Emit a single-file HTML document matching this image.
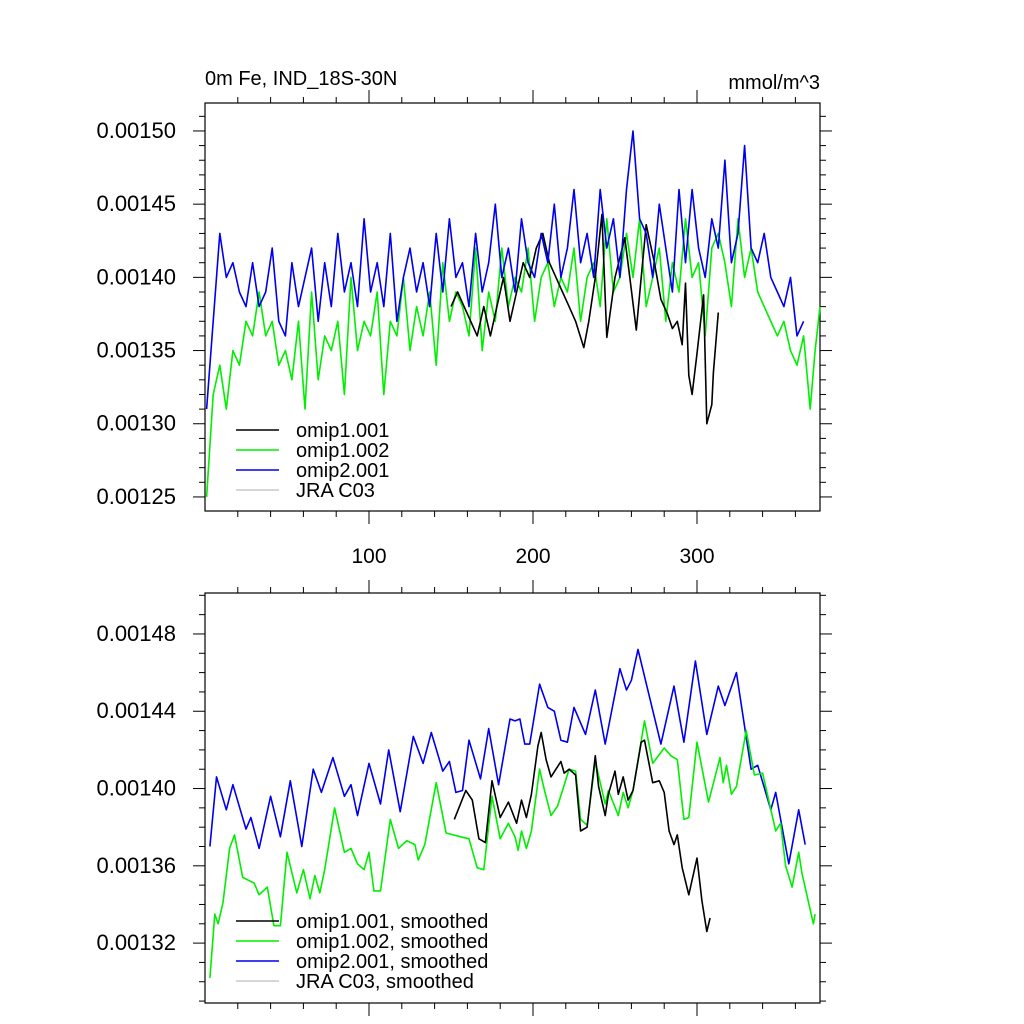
<!DOCTYPE html>
<html><head><meta charset="utf-8"><style>
html,body{margin:0;padding:0;background:#fff;}
svg{display:block;font-family:"Liberation Sans",sans-serif;}
</style></head><body>
<svg id="chart" width="1024" height="1024" viewBox="0 0 1024 1024" xmlns="http://www.w3.org/2000/svg">
<text x="205" y="85" font-size="20">0m Fe, IND_18S-30N</text>
<text x="820" y="89" font-size="20" text-anchor="end">mmol/m^3</text>
<g id="top"></g>
<g id="bot"></g>
</svg>
<script>
// values in units of 1e-5 mmol/m^3
const topBlueX=[1,5,9,13,17,21,25,29,33,37,41,45,49,53,57,61,65,69,73,77,81,85,89,93,97,101,105,109,113,117,121,125,129,133,137,141,145,149,153,157,161,165,169,173,177,181,185,189,193,197,201,205,209,213,217,221,225,229,233,237,241,245,249,253,257,261,265,269,273,277,281,285,289,293,297,301,305,309,313,317,321,325,329,333,337,341,345,349,353,357,361,365];
const topBlueY=[131,137,143,140,141,139,138,141,138,139,142,137,136,141,138,140,142,137,141,138,143,139,141,138,144,139,141,138,143,137,140,142,139,141,138,143,139,144,140,141,138,143,139,141,145,140,142,139,144,141,140,143,141,145,140,142,146,141,143,140,146,142,144,140,146,150,144,143,140,145,142,139,146,141,146,142,140,144,142,148,141,143,149,142,141,143,140,139,138,140,136,137];
const topGreenX=[1,5,9,13,17,21,25,29,33,37,41,45,49,53,57,61,65,69,73,77,81,85,89,93,97,101,105,109,113,117,121,125,129,133,137,141,145,149,153,157,161,165,169,173,177,181,185,189,193,197,201,205,209,213,217,221,225,229,233,237,241,245,249,253,257,261,265,269,273,277,281,285,289,293,297,301,305,309,313,317,321,325,329,333,337,341,345,349,353,357,361,365,369,372,375];
const topGreenY=[125,132,134,131,135,134,137,136,139,136,137,134,135,133,137,131,139,133,136,135,137,132,140,135,137,136,139,132,137,136,140,135,138,136,139,134,141,137,139,138,136,142,135,139,137,142,138,140,139,142,137,140,141,138,140,139,142,137,140,141,138,144,139,140,143,140,144,138,140,142,137,141,139,144,140,141,136,142,143,141,138,144,140,142,139,138,137,136,137,135,134,136,131,135,138];
const topBlackX=[150,154,158,162,166,170,174,178,182,186,190,194,198,202,206,210,214,218,222,226,231,234,238,242,245,250,256,259,263,266,269,274,278,282,285,288,291,293,295,297,300,304,306,309,310,313];
const topBlackY=[138,139,138,137,136,138,136,138,140,137,139,141,140,142,143,141,140,139,138,137,135.2,137,140,144.3,135.9,140,142.7,140,136.4,140,143.6,141,138.5,137.5,136.5,137,135.4,139.6,133.3,132,134.8,138.8,130,131.3,133.5,137.6];

const botBlueX=[3,7,13,17,25,28,33,40,46,52,59,66,71,78,85,89,93,100,107,112,119,127,133,138,145,149,153,157,161,168,173,179,186,189,192,195,198,204,209,213,217,221,225,232,238,244,253,257,260,264,278,286,292,299,306,313,317,324,333,337,345,348,356,362,366];
const botBlueY=[137,140.6,138.9,140.2,137.9,138.5,136.9,139.6,137.5,140.4,137,141,139.8,141.6,139.6,140.2,138.6,141.3,139.2,142,138.8,142.7,141.3,142.9,140.9,141.4,139.8,139.9,142.5,140.5,143.1,140.2,143.6,143.5,143.6,142.3,142.3,145.4,144.2,144,142.5,142.4,144.2,142.8,145.1,142.3,146.2,145.1,145.6,147.2,142.3,145.3,142.4,146.6,142.8,145.3,144.3,146,141,141.2,138.9,139.8,136.1,138.9,137.1];
const botGreenX=[3,6,8,11,15,18,23,30,33,38,42,46,50,56,60,64,67,70,73,79,85,89,93,97,100,103,107,113,118,123,128,130,134,141,147,156,161,166,170,175,180,185,189,191,193,196,199,204,207,211,215,218,222,226,229,233,238,244,246,252,255,258,261,268,273,280,284,288,292,295,300,307,314,316,318,321,324,330,335,340,348,351,354,358,362,364,371,372];
const botGreenY=[130.2,133.5,133,134.1,136.9,137.6,135.4,135.1,134.5,134.9,132.9,132.9,136.7,134.6,135.8,134.3,135.5,134.6,135.8,139,136.7,136.9,136.1,135.8,136.7,134.7,134.7,138.4,136.9,137.3,137.1,136.3,137.1,140.3,137.7,137.5,137.4,135.9,135.8,139.6,137.4,138.2,137.5,136.8,137.8,136.9,137.8,141,139.9,138.6,139.1,139.9,141,140.9,138.4,138.1,141.4,139.2,139.9,138.6,139.8,139,139.9,143.5,141.3,142.1,141.7,141.5,138.4,138.5,142.4,139.3,141.6,140.3,141.2,139.7,140.1,143,140.7,140.8,137.8,138.2,136,134.9,136.7,135.6,133,133.5];
const botBlackX=[152,159,163,167,171,175,180,185,190,193,196,199,203,205,208,211,217,219,222,226,229,233,238,240,244,246,250,252,255,258,261,266,268,273,277,280,283,286,288,291,295,300,303,306,308];
const botBlackY=[138.4,139.9,139.4,137.4,137.2,140.4,138.5,139.3,138.2,139.4,138.5,139.7,142.2,142.9,141.5,140.6,141.4,140.8,141,140.7,137.8,138,141.7,140.1,138.6,139.7,140.9,139.7,140.6,139.4,139.9,142.4,142.5,140.3,140.4,139.8,137.8,137.1,137.6,135.9,134.5,136.4,134.2,132.6,133.3];

const yTicksTop=["0.00125","0.00130","0.00135","0.00140","0.00145","0.00150"];
const yTicksBot=["0.00132","0.00136","0.00140","0.00144","0.00148"];
const xTicks=["100","200","300"];

const NS="http://www.w3.org/2000/svg";
const X0=205, X1=820, XMIN=0, XMAX=375;
const sx=v=>X0+(v-XMIN)/(XMAX-XMIN)*(X1-X0);
function mk(tag,attrs,parent){const e=document.createElementNS(NS,tag);for(const k in attrs)e.setAttribute(k,attrs[k]);parent.appendChild(e);return e;}

function panel(g,top,bot,ymin,ymax,yMajorStep,yTicks,showXLabels){
  const sy=v=>bot-(v-ymin)/(ymax-ymin)*(bot-top);
  const box=mk('rect',{x:X0,y:top,width:X1-X0,height:bot-top,fill:'none',stroke:'#000','stroke-width':1.2},g);
  
  
  for(let v=Math.ceil(ymin);v<=ymax;v++){
    const y=sy(v);
    const major=yTicks.some(t=>Math.abs(parseFloat(t)*1e5-v)<0.01);
    const L=major?12:6;
    mk('line',{x1:X0-L,y1:y,x2:X0,y2:y,stroke:'#000','stroke-width':1},g);
    mk('line',{x1:X1,y1:y,x2:X1+L,y2:y,stroke:'#000','stroke-width':1},g);
  }
  yTicks.forEach(t=>{
    const tx=mk('text',{x:176,y:sy(parseFloat(t)*1e5)+7,'font-size':22,'text-anchor':'end'},g);
    tx.textContent=t;
    
    
  });
  for(let v=20;v<XMAX;v+=20){
    const x=sx(v);const major=v%100===0;const L=major?13:6;
    mk('line',{x1:x,y1:bot,x2:x,y2:bot+L,stroke:'#000','stroke-width':1},g);
    mk('line',{x1:x,y1:top-L,x2:x,y2:top,stroke:'#000','stroke-width':1},g);
  }
  if(showXLabels) xTicks.forEach(t=>{
    const tx=mk('text',{x:sx(parseFloat(t)),y:bot+52,'font-size':21,'text-anchor':'middle'},g);
    tx.textContent=t;
    
    
  });
  return sy;
}
function series(g,sy,xs,ys,color,name){
  const d=xs.map((x,i)=>(i?'L':'M')+sx(x).toFixed(1)+' '+sy(ys[i]).toFixed(1)).join(' ');
  const p=mk('path',{d:d,fill:'none',stroke:color,'stroke-width':1.6,'stroke-linejoin':'round'},g);
  
  
}
function legend(g,y0,labels,colors){
  labels.forEach((l,i)=>{
    const y=y0+i*20;
    const ln=mk('line',{x1:236,y1:y,x2:279,y2:y,stroke:colors[i],'stroke-width':1.6},g);
    
    
    const t=mk('text',{x:296,y:y+7,'font-size':20},g);
    t.textContent=l;
    
    
  });
}
const gt=document.getElementById('top'), gb=document.getElementById('bot');
const syT=panel(gt,103,511,124.04,151.91,5,yTicksTop,true);
series(gt,syT,topGreenX,topGreenY,'#00ee00','series-omip1-002');
series(gt,syT,topBlackX,topBlackY,'#000000','series-omip1-001');
series(gt,syT,topBlueX,topBlueY,'#0000ee','series-omip2-001');
legend(gt,430,["omip1.001","omip1.002","omip2.001","JRA C03"],['#000','#00ee00','#0000ee','#c8c8c8']);
const syB=panel(gb,593,1003,128.9,150.12,4,yTicksBot,false);
series(gb,syB,botBlueX,botBlueY,'#0000ee','series-omip2-001-smoothed');
series(gb,syB,botGreenX,botGreenY,'#00ee00','series-omip1-002-smoothed');
series(gb,syB,botBlackX,botBlackY,'#000000','series-omip1-001-smoothed');
legend(gb,921,["omip1.001, smoothed","omip1.002, smoothed","omip2.001, smoothed","JRA C03, smoothed"],['#000','#00ee00','#0000ee','#c8c8c8']);
</script>
</body></html>
